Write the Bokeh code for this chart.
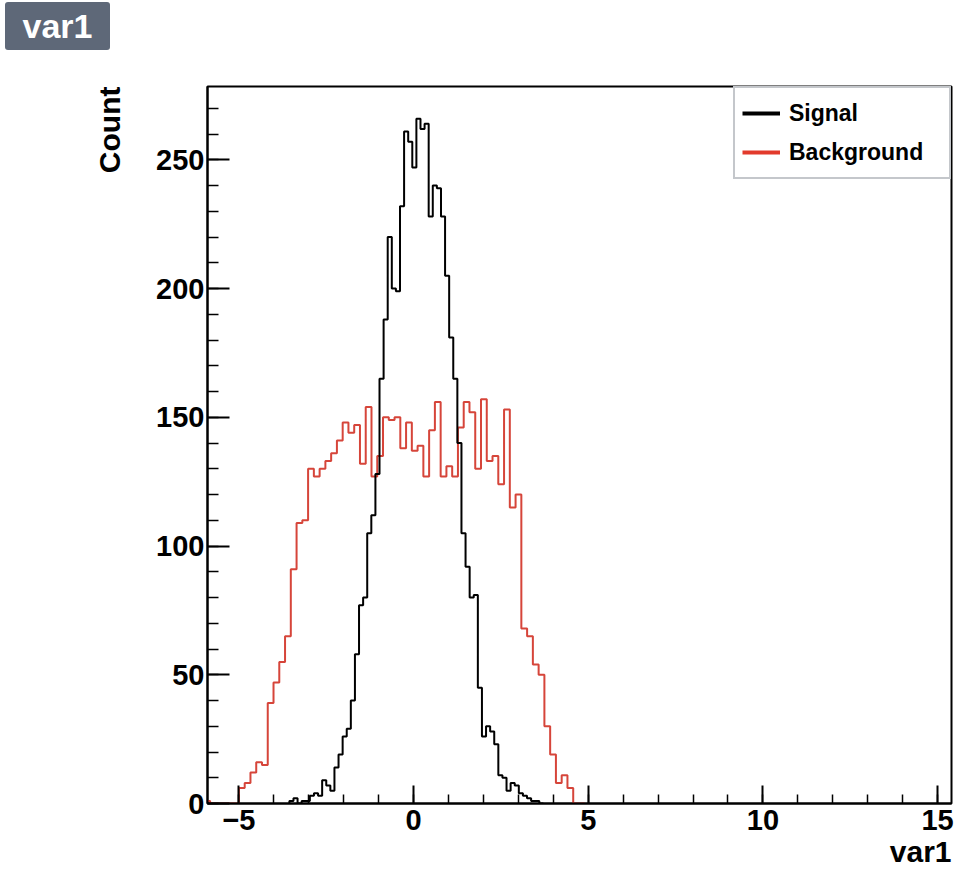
import numpy as np
from bokeh.plotting import figure
from bokeh.layouts import column
from bokeh.models import (Range1d, SingleIntervalTicker, Legend, LegendItem,
                          Title, CustomJSTickFormatter, Div)
from bokeh.embed import file_html
from bokeh.resources import INLINE

# ---------------- data ----------------
sig_x0 = -3.556          # left edge of first Signal bin
sig_bin_width = 0.1173
sig_counts = [1, 2, 0, 1, 1, 3, 4, 3, 9, 7, 5,
              14, 19, 26, 29, 40, 58, 77, 80, 105, 112,
              128, 165, 188, 220, 200, 199, 232, 261, 257, 247,
              266, 262, 264, 228, 240, 239, 228, 205, 181, 165,
              140, 105, 92, 80, 81, 45, 26, 30, 28, 23,
              11, 10, 5, 8, 7, 4, 3, 2, 1, 1, 0]

bkg_x0 = -5.99           # left edge of first Background bin
bkg_bin_width = 0.165
bkg_counts = [1, 0, 0, 0, 0, 0,
              6, 8, 12, 16, 15, 39, 47, 55, 65, 91,
              109, 110, 130, 127, 130, 133, 136, 141, 148, 144,
              147, 132, 154, 127, 135, 150, 149, 150, 138, 148,
              137, 139, 127, 145, 156, 127, 131, 127, 146, 156,
              152, 130, 157, 133, 135, 124, 153, 115, 120, 68,
              65, 54, 50, 30, 19, 8, 11, 6,
              0, 0]

x_range = (-5.9, 15.4)
y_range = (0, 278.5)
x_major_interval = 5
y_major_interval = 50
series_names = ["Signal", "Background"]
x_title = "var1"
y_title = "Count"
badge_text = "var1"


def step_path(x0, w, counts):
    counts = np.asarray(counts, dtype=float)
    edges = x0 + w * np.arange(len(counts) + 1)
    xs = np.repeat(edges, 2)
    ys = np.concatenate([[0.0], np.repeat(counts, 2), [0.0]])
    return xs, ys


FONT = "Liberation Sans"
RED = "#d6453a"

badge = Div(text=badge_text, width=105, height=48, margin=(2, 0, 0, 5),
            styles={"background-color": "#5e6878", "color": "white",
                    "font-family": FONT, "font-weight": "bold",
                    "font-size": "34px", "line-height": "48px",
                    "text-align": "center", "border-radius": "3px"})

p = figure(width=956, height=824, title=None,
           x_range=Range1d(*x_range), y_range=Range1d(*y_range),
           output_backend="svg", toolbar_location=None,
           min_border_left=207, min_border_right=5,
           min_border_top=36, min_border_bottom=71)

p.xgrid.visible = False
p.ygrid.visible = False
p.outline_line_color = "black"
p.outline_line_width = 2
p.outline_line_alpha = 1.0
p.background_fill_color = "white"
p.border_fill_color = "white"

# histograms
bx, by = step_path(bkg_x0, bkg_bin_width, bkg_counts)
bkg_r = p.line(bx, by, line_color=RED, line_width=2)
sx, sy = step_path(sig_x0, sig_bin_width, sig_counts)
sig_r = p.line(sx, sy, line_color="black", line_width=2)

# axes
fmt = CustomJSTickFormatter(code="return tick < 0 ? '\\u2212' + (-tick) : String(tick);")
xa = p.xaxis[0]
xa.ticker = SingleIntervalTicker(interval=x_major_interval, num_minor_ticks=5)
xa.formatter = fmt
xa.major_tick_in = 18
xa.major_tick_out = 0
xa.minor_tick_in = 9
xa.minor_tick_out = 0
xa.major_label_standoff = 6

ya = p.yaxis[0]
ya.ticker = SingleIntervalTicker(interval=y_major_interval, num_minor_ticks=5)
ya.major_tick_in = 22
ya.major_tick_out = 0
ya.minor_tick_in = 11
ya.minor_tick_out = 0
ya.major_label_standoff = 3

for ax in (xa, ya):
    ax.axis_line_width = 2
    ax.axis_line_color = "black"
    ax.major_tick_line_width = 2
    ax.major_tick_line_color = "black"
    ax.minor_tick_line_width = 1.5
    ax.minor_tick_line_color = "black"
    ax.major_label_text_font = FONT
    ax.major_label_text_font_style = "bold"
    ax.major_label_text_font_size = "29px"
    ax.major_label_text_color = "black"

# legend (thicker sample lines, as in the reference)
sig_leg = p.line([np.nan], [np.nan], line_color="black", line_width=4)
bkg_leg = p.line([np.nan], [np.nan], line_color="#e23a2c", line_width=4)
legend = Legend(items=[LegendItem(label=series_names[0], renderers=[sig_leg]),
                       LegendItem(label=series_names[1], renderers=[bkg_leg])],
                location="top_right", margin=0, padding=7, spacing=3,
                glyph_width=38, glyph_height=36, label_height=36,
                label_width=153, label_standoff=9,
                border_line_color="#8a8f98", border_line_width=2,
                background_fill_color="white", background_fill_alpha=1.0,
                label_text_font=FONT, label_text_font_style="bold",
                label_text_font_size="23px", label_text_color="black")
p.add_layout(legend)

# axis titles (ROOT style: at the end of the axes)
p.add_layout(Title(text=y_title, align="right", standoff=56,
                   text_font=FONT, text_font_style="bold",
                   text_font_size="30px", text_color="black"), "left")
p.add_layout(Title(text=x_title, align="right", standoff=0,
                   text_font=FONT, text_font_style="bold",
                   text_font_size="30px", text_color="black"), "below")

layout = column(badge, p, spacing=0)

open("out.html", "w").write(file_html(layout, INLINE))
